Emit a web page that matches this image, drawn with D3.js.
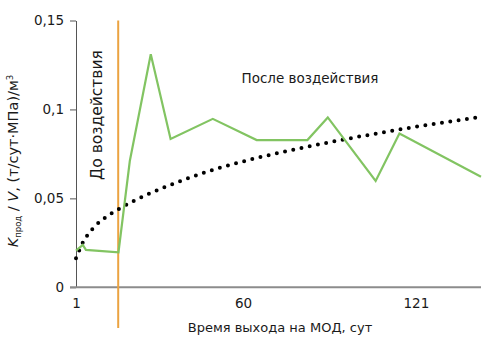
<!DOCTYPE html>
<html>
<head>
<meta charset="utf-8">
<script src="https://cdn.jsdelivr.net/npm/d3@7"></script>
<style>
  html, body { margin: 0; padding: 0; background: #fff; }
  svg { display: block; }
  text { font-family: "DejaVu Sans", Verdana, sans-serif; fill: #1a1a1a; }
</style>
</head>
<body>
<svg id="chart" width="489" height="338"></svg>
<script>
// Measured ratio K_prod / V over days of operation
const days   = [1, 3.4, 4.5, 16, 20, 27.4, 34.4, 49.3, 64.8, 82.7, 89.9, 106.8, 115.2, 144];
const ratio  = [0.0206, 0.0238, 0.021, 0.0197, 0.071, 0.131, 0.0834, 0.0947, 0.0828, 0.0828, 0.0955, 0.0598, 0.0865, 0.0622];

// Logarithmic trend line, sampled along its length
const trendDays  = [1, 3.4, 6.8, 11.3, 16.5, 21.8, 27.2, 32.9, 38.5, 44.2, 50.1, 58.9, 67.7, 76.6, 85.4, 94.2, 103, 111.9, 121.1, 130.1, 139, 144];
const trendRatio = [0.0163, 0.0251, 0.0328, 0.0392, 0.0444, 0.0489, 0.0529, 0.0567, 0.0601, 0.0633, 0.0664, 0.0703, 0.0738, 0.0769, 0.0799, 0.0827, 0.0853, 0.0878, 0.0903, 0.0925, 0.0946, 0.0958];

// Day of the treatment
const treatmentDay = [15.9];

const xTicks = [1, 60, 121];
const yTicks = [0, 0.05, 0.1, 0.15];

const svg = d3.select("#chart");
const x = d3.scaleLinear().domain([1, 144]).range([76, 481]);
const y = d3.scaleLinear().domain([0, 0.15]).range([287.3, 20.5]);

const ru = d3.formatLocale({ decimal: ",", thousands: " ", grouping: [3], currency: ["", " ₽"] });
const fmt = ru.format("~g");

// Y axis
const yAxis = svg.append("g")
  .attr("transform", `translate(${x(1)},0)`)
  .call(d3.axisLeft(y).tickValues(yTicks).tickFormat(fmt).tickSizeInner(6).tickSizeOuter(0).tickPadding(6));
yAxis.select(".domain").attr("stroke", "#555").attr("stroke-width", 1);
yAxis.selectAll(".tick line").attr("stroke", "#555");
yAxis.selectAll(".tick text").attr("font-size", 13.5).attr("font-family", "DejaVu Sans").attr("fill", "#1a1a1a");

// X axis
const xAxis = svg.append("g")
  .attr("transform", `translate(0,${y(0)})`)
  .call(d3.axisBottom(x).tickValues(xTicks).tickFormat(d3.format("d")).tickSizeInner(0).tickSizeOuter(0).tickPadding(11));
xAxis.select(".domain").attr("stroke", "#8c8c8c").attr("stroke-width", 2)
  .attr("d", `M${x(1) - 6},0H${x(144)}`);
xAxis.selectAll(".tick text").attr("font-size", 13.5).attr("font-family", "DejaVu Sans").attr("fill", "#1a1a1a");

// Treatment marker
svg.append("g").selectAll("line").data(treatmentDay).join("line")
  .attr("x1", d => x(d)).attr("x2", d => x(d))
  .attr("y1", y(0.15)).attr("y2", 328)
  .attr("stroke", "#eba341").attr("stroke-width", 2);

// Trend (dotted)
const trendLine = d3.line().x((d, i) => x(trendDays[i])).y(d => y(d)).curve(d3.curveMonotoneX);
svg.append("path")
  .attr("d", trendLine(trendRatio))
  .attr("fill", "none").attr("stroke", "#000").attr("stroke-width", 4)
  .attr("stroke-linecap", "round").attr("stroke-dasharray", "0 8.4");

// Measured series
const line = d3.line().x((d, i) => x(days[i])).y(d => y(d));
svg.append("path")
  .attr("d", line(ratio))
  .attr("fill", "none").attr("stroke", "#82c462").attr("stroke-width", 2.2)
  .attr("stroke-linejoin", "miter");

// Annotations
svg.append("text")
  .attr("x", 310).attr("y", 83).attr("text-anchor", "middle")
  .attr("font-size", 13.5).attr("font-family", "Liberation Sans")
  .text("После воздействия");

svg.append("text")
  .attr("transform", "translate(102,115) rotate(-90)")
  .attr("text-anchor", "middle")
  .attr("font-size", 15.5).attr("font-family", "Liberation Sans")
  .text("До воздействия");

// Axis titles
svg.append("text")
  .attr("x", 280).attr("y", 332).attr("text-anchor", "middle")
  .attr("font-size", 13).attr("font-family", "DejaVu Sans")
  .text("Время выхода на МОД, сут");

const yTitle = svg.append("text")
  .attr("transform", "translate(18,161) rotate(-90)")
  .attr("text-anchor", "middle")
  .attr("font-size", 14.5).attr("font-family", "Liberation Sans");
yTitle.append("tspan").attr("font-style", "italic").text("K");
yTitle.append("tspan").attr("font-size", 8.5).attr("dy", 3).text("прод");
yTitle.append("tspan").attr("dy", -3).text(" / ");
yTitle.append("tspan").attr("font-style", "italic").text("V");
yTitle.append("tspan").text(", (т/сут·МПа)/м");
yTitle.append("tspan").attr("font-size", 8.5).attr("dy", -5).text("3");
</script>
</body>
</html>
